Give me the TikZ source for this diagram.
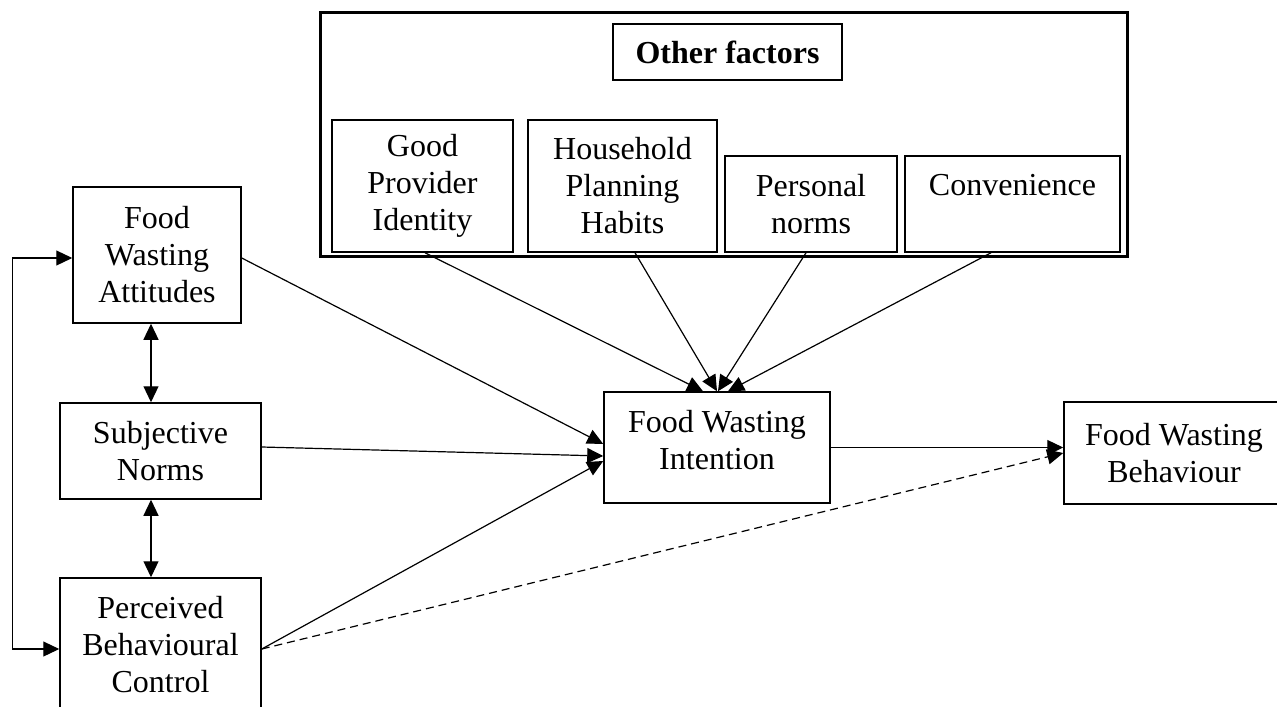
\documentclass[tikz,border=0pt]{standalone}
\usepackage{fontspec}
\setmainfont{Liberation Serif}
\usetikzlibrary{arrows.meta}
\begin{document}
\begin{tikzpicture}[x=0.5pt,y=-0.5pt,
  every node/.style={font=\fontsize{16pt}{18.5pt}\selectfont, align=center},
  bx/.style={draw, line width=0.75pt, inner sep=0pt, anchor=center},
  outerbx/.style={draw, line width=1.5pt, inner sep=0pt},
  lbl/.style={inner sep=0pt},
  arr/.style={line width=0.6pt, -{Triangle[length=8pt,width=7.5pt]}},
  dbl/.style={line width=0.6pt, {Triangle[length=8pt,width=7.5pt]}-{Triangle[length=8pt,width=7.5pt]}},
  dsh/.style={dash pattern=on 4pt off 2.5pt}
]
\clip (0,0) rectangle (1277,706);
\useasboundingbox (0,0) rectangle (1277,706);

% left column
\node[bx, minimum width=84pt, minimum height=68pt] (att) at (157,255) {Food\\Wasting\\Attitudes};
\node[bx, minimum width=100.5pt, minimum height=48pt] (subj) at (160.5,451) {Subjective\\Norms};
\node[bx, minimum width=100.5pt, minimum height=67pt] (pbc) at (160.5,645) {Perceived\\Behavioural\\Control};

% centre and right
\node[bx, minimum width=113pt, minimum height=55.5pt] (int) at (717,447.5) {};
\node[lbl] (intT) at ([yshift=3.75pt]int.center) {Food Wasting\\Intention};
\node[bx, minimum width=110pt, minimum height=51pt] (beh) at (1174,453) {Food Wasting\\Behaviour};

% other factors group
\node[bx, minimum width=114.5pt, minimum height=28pt] (of) at (727.5,52) {\textbf{Other factors}};
\node[bx, minimum width=90.5pt, minimum height=66pt] (gp) at (422.5,186) {Good\\Provider\\Identity};
\node[bx, minimum width=94.5pt, minimum height=66pt] (hh) at (622.5,186) {Household\\Planning\\Habits};
\node[bx, minimum width=86pt, minimum height=48pt] (pn) at (811,204) {Personal\\norms};
\node[bx, minimum width=107.5pt, minimum height=48pt] (cv) at (1012.5,204) {};
\node[lbl] (cvT) at ([yshift=9.5pt]cv.center) {Convenience};

% connectors
\coordinate (ax) at (151,0);
\draw[dbl] ([yshift=-1.5pt]att.west) -- ++(-60,0) |- ([yshift=-2pt]pbc.west);
\draw[dbl] (att.south -| ax) -- (subj.north -| ax);
\draw[dbl] (subj.south -| ax) -- (pbc.north -| ax);

\draw[arr] ([yshift=-1.5pt]att.east) -- ([yshift=1.75pt]int.west);
\draw[arr] ([yshift=2pt]subj.east) -- ([yshift=-4.25pt]int.west);
\draw[arr] ([yshift=-2pt]pbc.east) -- ([yshift=-6.75pt]int.west);

\draw[arr] ([xshift=1.25pt]gp.south) -- ([xshift=-7pt]int.north);
\draw[arr] ([xshift=6.25pt]hh.south) -- (int.north);
\draw[arr] ([xshift=-2.5pt]pn.south) -- ([xshift=0.5pt]int.north);
\draw[arr] ([xshift=-10.75pt]cv.south) -- ([xshift=5.5pt]int.north);

\draw[arr] (int.east) -- (int.east -| beh.west);
\draw[arr, dsh] ([yshift=-2pt]pbc.east) -- (beh.west);

% outer frame drawn last
\node[outerbx, minimum width=403.5pt, minimum height=121.5pt] (outer) at (723.5,134.5) {};
\end{tikzpicture}
\end{document}
